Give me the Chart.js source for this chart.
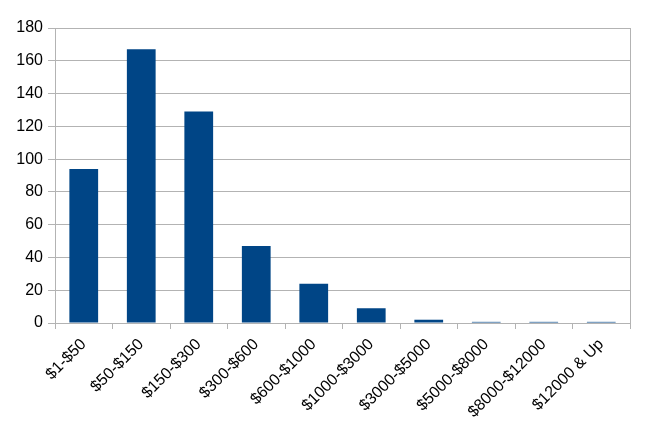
<!DOCTYPE html>
<html>
<head>
<meta charset="utf-8">
<script src="https://cdn.jsdelivr.net/npm/chart.js@4"></script>
<style>
  html, body { margin: 0; padding: 0; background: #fff; }
  #wrap { width: 651px; height: 431px; }
</style>
</head>
<body>
<div id="wrap"><canvas id="myChart" width="651" height="431"></canvas></div>
<script>
// price buckets and counts
const categories = ['$1-$50', '$50-$150', '$150-$300', '$300-$600', '$600-$1000',
  '$1000-$3000', '$3000-$5000', '$5000-$8000', '$8000-$12000', '$12000 & Up'];
const counts = [94, 167, 129, 47, 24, 9, 2, 0.7, 0.7, 0.7];
const yTicks = [0, 20, 40, 60, 80, 100, 120, 140, 160, 180];

const gridColor = '#b3b3b3';
const tickFont = { family: 'Liberation Sans', size: 16 };

const config = {
  type: 'bar',
  data: {
    labels: categories,
    datasets: [{
      label: 'Count',
      data: counts,
      backgroundColor: '#004586',
      categoryPercentage: 1.0,
      barPercentage: 0.5,
    }]
  },
  options: {
    responsive: false,
    animation: false,
    layout: { padding: { left: 0, right: 21, top: 28, bottom: 0 } },
    plugins: {
      legend: { display: false },
      tooltip: { enabled: false }
    },
    scales: {
      x: {
        afterFit: (axis) => { axis.height = 108; },
        grid: {
          offset: true,
          drawOnChartArea: false,
          drawTicks: true,
          tickLength: 6,
          color: gridColor
        },
        border: { color: gridColor },
        ticks: {
          color: '#000',
          font: tickFont,
          maxRotation: 45,
          minRotation: 45,
          autoSkip: false,
          padding: 6
        }
      },
      y: {
        min: 0,
        max: 180,
        afterBuildTicks: (axis) => { axis.ticks = yTicks.map(v => ({ value: v })); },
        afterFit: (axis) => { axis.width = 55; },
        grid: { color: gridColor, tickLength: 7 },
        border: { color: gridColor },
        ticks: {
          color: '#000',
          font: tickFont,
          padding: 5
        }
      },
      yRight: {
        position: 'right',
        min: 0,
        max: 180,
        afterFit: (axis) => { axis.width = 0; },
        grid: { display: false },
        border: { color: gridColor },
        ticks: { display: false }
      }
    }
  }
};

const myChart = new Chart(document.getElementById('myChart'), config);
</script>
</body>
</html>
